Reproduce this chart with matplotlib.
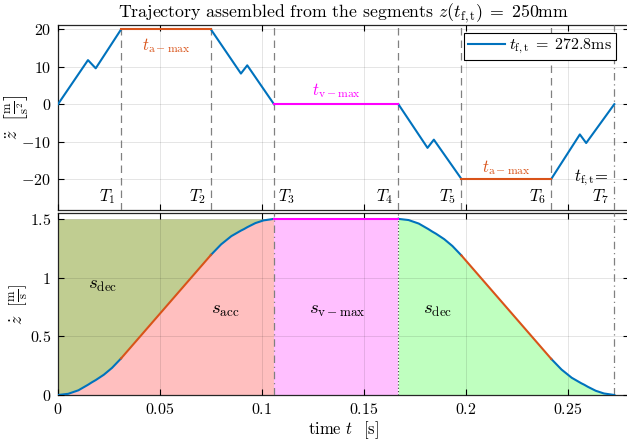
# Trajectory assembled from segments: acceleration (top) and velocity (bottom)

import numpy as np
import matplotlib
matplotlib.use("Agg")
import matplotlib.pyplot as plt
from matplotlib.ticker import FuncFormatter

plt.rcParams["font.family"] = "serif"
plt.rcParams["font.serif"] = ["cmr10", "DejaVu Serif"]
plt.rcParams["mathtext.fontset"] = "cm"
plt.rcParams["axes.formatter.use_mathtext"] = True
plt.rcParams["axes.unicode_minus"] = False

# -------------------- Data --------------------
T_marks = [0.0309, 0.0750, 0.1059, 0.1669, 0.1978, 0.2419, 0.2728]
T_names = ["$T_1$", "$T_2$", "$T_3$", "$T_4$", "$T_5$", "$T_6$", "$T_7$"]

# acceleration segments [m/s^2]
acc_t_r1 = [0.0, 0.0147, 0.0185, 0.0309]
acc_a_r1 = [0.0, 11.8, 9.6, 20.0]
acc_t_c1 = [0.0309, 0.0750]
acc_a_c1 = [20.0, 20.0]
acc_t_r2 = [0.0750, 0.0897, 0.0928, 0.1059]
acc_a_r2 = [20.0, 8.2, 10.4, 0.0]
acc_t_v = [0.1059, 0.1669]
acc_a_v = [0.0, 0.0]
acc_t_r3 = [0.1669, 0.1812, 0.1843, 0.1978]
acc_a_r3 = [0.0, -11.7, -9.5, -20.0]
acc_t_c2 = [0.1978, 0.2419]
acc_a_c2 = [-20.0, -20.0]
acc_t_r4 = [0.2419, 0.2559, 0.2590, 0.2728]
acc_a_r4 = [-20.0, -8.1, -10.4, 0.0]

# velocity segments [m/s]
vel_t_r1 = [0.0, 0.0050, 0.0100, 0.0147, 0.0166, 0.0185, 0.0225, 0.0265, 0.0309]
vel_v_r1 = [0.0, 0.010, 0.040, 0.087, 0.108, 0.127, 0.173, 0.231, 0.311]
vel_t_c1 = [0.0309, 0.0750]
vel_v_c1 = [0.311, 1.193]
vel_t_r2 = [0.0750, 0.0800, 0.0850, 0.0897, 0.0912, 0.0928, 0.0968, 0.1008, 0.1059]
vel_v_r2 = [1.193, 1.283, 1.353, 1.400, 1.413, 1.429, 1.464, 1.487, 1.500]
vel_t_v = [0.1059, 0.1669]
vel_v_v = [1.5, 1.5]
vel_t_r3 = [0.1669, 0.1719, 0.1769, 0.1816, 0.1835, 0.1854, 0.1894, 0.1934, 0.1978]
vel_v_r3 = [1.500, 1.490, 1.460, 1.413, 1.392, 1.373, 1.327, 1.269, 1.189]
vel_t_c2 = [0.1978, 0.2419]
vel_v_c2 = [1.189, 0.307]
vel_t_r4 = [0.2419, 0.2469, 0.2519, 0.2566, 0.2581, 0.2597, 0.2637, 0.2677, 0.2728]
vel_v_r4 = [0.307, 0.217, 0.147, 0.100, 0.087, 0.071, 0.036, 0.013, 0.0]

V_MAX = 1.5

# -------------------- Styles --------------------
C_BLUE = "#0072BD"
C_ORANGE = "#D95319"
C_MAG = "#FF00FF"
C_OLIVE = "#C0CD91"
C_PINK = "#FFBFBF"
C_LMAG = "#FFBFFF"
C_LGREEN = "#BFFFBF"
LW = 1.5
FS = 11.5

fig = plt.figure(figsize=(6.27, 4.45), dpi=100)
ax1 = fig.add_axes([58 / 627, 1 - 209.5 / 445, 571 / 627, 184.5 / 445])
ax2 = fig.add_axes([58 / 627, 1 - 395 / 445, 571 / 627, 182 / 445])

def style_axes(ax):
    ax.set_xlim(0, 0.28)
    ax.set_xticks([0, 0.05, 0.1, 0.15, 0.2, 0.25])
    ax.tick_params(direction="in", top=True, right=True, length=4.5, width=0.8,
                   labelsize=FS, pad=5)
    ax.grid(True, color="black", alpha=0.12, linewidth=0.6)
    ax.set_axisbelow(False)
    for s in ax.spines.values():
        s.set_linewidth(0.9)
        s.set_color("#262626")

fmt = FuncFormatter(lambda v, p: f"${v:g}$")

# -------------------- Top: acceleration --------------------
style_axes(ax1)
ax1.set_ylim(-28.2, 21.2)
ax1.set_yticks([-20, -10, 0, 10, 20])
ax1.yaxis.set_major_formatter(fmt)
ax1.set_xticklabels([])

for tt, aa in [(acc_t_r1, acc_a_r1), (acc_t_r2, acc_a_r2),
               (acc_t_r3, acc_a_r3), (acc_t_r4, acc_a_r4)]:
    ln, = ax1.plot(tt, aa, color=C_BLUE, lw=LW, zorder=3)
ax1.plot(acc_t_c1, acc_a_c1, color=C_ORANGE, lw=LW, zorder=3)
ax1.plot(acc_t_c2, acc_a_c2, color=C_ORANGE, lw=LW, zorder=3)
ax1.plot(acc_t_v, acc_a_v, color=C_MAG, lw=LW, zorder=3)

for i, T in enumerate(T_marks):
    ls = (0, (6, 4)) if i < 6 else (0, (6, 3, 1, 3))
    ax1.axvline(T, color="#808080", lw=0.9, ls=ls, zorder=2.6)

for i, (T, name) in enumerate(zip(T_marks, T_names)):
    if i == 2:
        ax1.text(T + 0.002, -24.8, name, ha="left", va="center", fontsize=FS + 0.5)
    else:
        ax1.text(T - 0.0025, -24.8, name, ha="right", va="center", fontsize=FS + 0.5)
ax1.text(T_marks[6] - 0.0025, -19.6, r"$t_{\mathrm{f,t}}\!=$", ha="right",
         va="center", fontsize=FS + 0.5)

ax1.text((acc_t_c1[0] + acc_t_c1[1]) / 2, 15.8, r"$t_{\mathrm{a-max}}$",
         color=C_ORANGE, ha="center", va="center", fontsize=FS + 0.5)
ax1.text((acc_t_v[0] + acc_t_v[1]) / 2, 3.7, r"$t_{\mathrm{v-max}}$",
         color=C_MAG, ha="center", va="center", fontsize=FS + 0.5)
ax1.text((acc_t_c2[0] + acc_t_c2[1]) / 2, -16.9, r"$t_{\mathrm{a-max}}$",
         color=C_ORANGE, ha="center", va="center", fontsize=FS + 0.5)

ax1.legend([ln], [r"$t_{\mathrm{f,t}}\; =\; 272.8$ms"], loc="upper right",
           bbox_to_anchor=(0.977, 0.957), borderaxespad=0, fancybox=False,
           framealpha=1, edgecolor="black", fontsize=FS, handlelength=2.3,
           borderpad=0.25, handletextpad=0.25)
ax1.get_legend().get_frame().set_linewidth(0.8)

ax1.set_title(r"Trajectory assembled from the segments $z(t_{\mathrm{f,t}})\; =\; 250$mm",
              fontsize=12.8, pad=5)
ax1.set_ylabel(r"$\ddot{z}\ \ \left[\frac{\mathrm{m}}{\mathrm{s}^2}\right]$", fontsize=13)
ax1.yaxis.set_label_coords(-0.048, 0.5)

# -------------------- Bottom: velocity --------------------
style_axes(ax2)
ax2.set_ylim(0, 1.55)
ax2.set_yticks([0, 0.5, 1, 1.5])
ax2.yaxis.set_major_formatter(fmt)
ax2.xaxis.set_major_formatter(fmt)

t_up = np.concatenate([vel_t_r1, vel_t_c1[1:], vel_t_r2[1:]])
v_up = np.concatenate([vel_v_r1, vel_v_c1[1:], vel_v_r2[1:]])
t_dn = np.concatenate([vel_t_r3, vel_t_c2[1:], vel_t_r4[1:]])
v_dn = np.concatenate([vel_v_r3, vel_v_c2[1:], vel_v_r4[1:]])

ax2.fill_between(t_up, v_up, V_MAX, color=C_OLIVE, lw=0, zorder=1)
ax2.fill_between(t_up, 0, v_up, color=C_PINK, lw=0, zorder=1)
ax2.fill_between(vel_t_v, 0, vel_v_v, color=C_LMAG, lw=0, zorder=1)
ax2.fill_between(t_dn, 0, v_dn, color=C_LGREEN, lw=0, zorder=1)

for tt, vv in [(vel_t_r1, vel_v_r1), (vel_t_r2, vel_v_r2),
               (vel_t_r3, vel_v_r3), (vel_t_r4, vel_v_r4)]:
    ax2.plot(tt, vv, color=C_BLUE, lw=LW, zorder=3)
ax2.plot(vel_t_c1, vel_v_c1, color=C_ORANGE, lw=LW, zorder=3)
ax2.plot(vel_t_c2, vel_v_c2, color=C_ORANGE, lw=LW, zorder=3)
ax2.plot(vel_t_v, vel_v_v, color=C_MAG, lw=LW, zorder=3)

ax2.axvline(T_marks[2], color="#808080", lw=0.9, ls=(0, (6, 3, 1, 3)), zorder=2.6)
ax2.axvline(T_marks[3], color="#404040", lw=0.8, ls=(0, (1, 2)), zorder=2.6)
ax2.axvline(T_marks[6], color="#808080", lw=0.9, ls=(0, (6, 3, 1, 3)), zorder=2.6)

ax2.text(0.022, 0.94, r"$s_{\mathrm{dec}}$", ha="center", va="center", fontsize=13.5)
ax2.text(0.082, 0.72, r"$s_{\mathrm{acc}}$", ha="center", va="center", fontsize=13.5)
ax2.text(0.137, 0.72, r"$s_{\mathrm{v-max}}$", ha="center", va="center", fontsize=13.5)
ax2.text(0.186, 0.72, r"$s_{\mathrm{dec}}$", ha="center", va="center", fontsize=13.5)

ax2.set_xlabel(r"time $t$  [s]", fontsize=FS + 0.5, labelpad=2)
ax2.set_ylabel(r"$\dot{z}\ \ \left[\frac{\mathrm{m}}{\mathrm{s}}\right]$", fontsize=13)
ax2.yaxis.set_label_coords(-0.05, 0.5)

fig.savefig("out.png", dpi=100)
